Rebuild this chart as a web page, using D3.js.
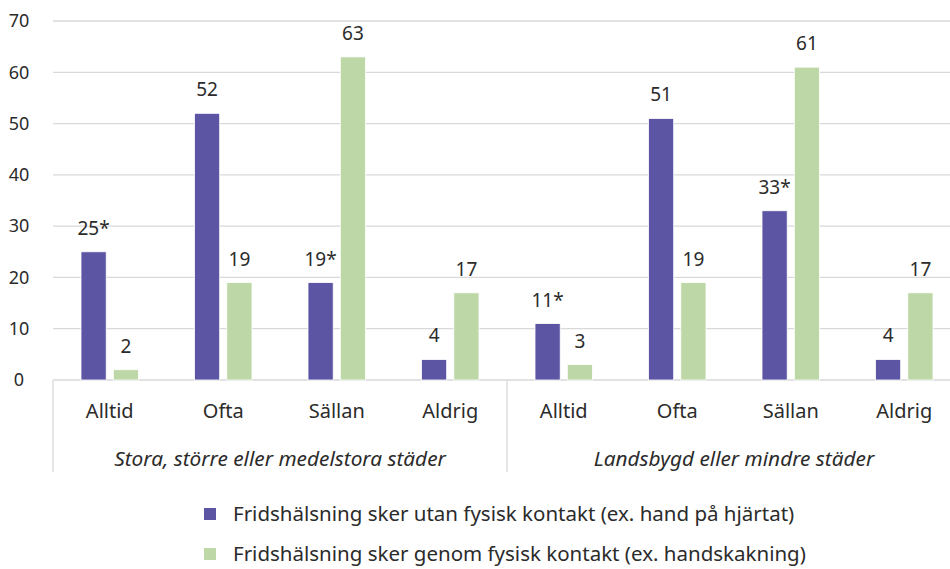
<!DOCTYPE html>
<html>
<head>
<meta charset="utf-8">
<script src="https://cdn.jsdelivr.net/npm/d3@7"></script>
<style>
  body { margin: 0; background: #fff; }
  text { font-family: "Noto Sans", "Open Sans", sans-serif; fill: #2b2b2b; }
</style>
</head>
<body>
<div id="chart"></div>
<script>
var groups = ["Stora, större eller medelstora städer", "Landsbygd eller mindre städer"];
var categories = ["Alltid", "Ofta", "Sällan", "Aldrig"];
var seriesNames = ["Fridshälsning sker utan fysisk kontakt (ex. hand på hjärtat)",
                   "Fridshälsning sker genom fysisk kontakt (ex. handskakning)"];
var utanKontakt = [25, 52, 19, 4, 11, 51, 33, 4];
var genomKontakt = [2, 19, 63, 17, 3, 19, 61, 17];
var utanLabels = ["25*", "52", "19*", "4", "11*", "51", "33*", "4"];
var genomLabels = ["2", "19", "63", "17", "3", "19", "61", "17"];
var yTicks = [0, 10, 20, 30, 40, 50, 60, 70];
var colors = ["#5b55a3", "#bdd7a6"];

var width = 950, height = 569;
var plotLeft = 53, plotRight = 961, plotTop = 21, plotBottom = 380;

var svg = d3.select("#chart").append("svg")
    .attr("width", width)
    .attr("height", height);

// one slot per group/category pair
var slots = [];
groups.forEach(function(g, gi) {
    categories.forEach(function(c, ci) {
        slots.push({ group: gi, cat: c, key: gi + "-" + c });
    });
});

var x = d3.scaleBand().domain(slots.map(function(d) { return d.key; })).range([plotLeft, plotRight]);
var y = d3.scaleLinear().domain([0, 70]).range([plotBottom, plotTop]);
var inner = d3.scaleBand().domain([0, 1]).range([28, x.bandwidth() - 28]).paddingInner(0.22);

// gridlines
svg.selectAll(".grid").data(yTicks).enter().append("line")
    .attr("x1", plotLeft).attr("x2", width)
    .attr("y1", function(d) { return y(d); })
    .attr("y2", function(d) { return y(d); })
    .attr("stroke", "#d9d9d9").attr("stroke-width", 1.3);

// y labels
svg.selectAll(".ytick").data(yTicks).enter().append("text")
    .attr("x", 19).attr("y", function(d) { return y(d); })
    .attr("dy", "0.35em")
    .attr("text-anchor", "middle")
    .style("font-size", "18px")
    .text(function(d) { return d; });

// bars
var series = [utanKontakt, genomKontakt];
var labels = [utanLabels, genomLabels];
series.forEach(function(vals, si) {
    svg.selectAll(".bar" + si).data(slots).enter().append("rect")
        .attr("x", function(d) { return x(d.key) + inner(si); })
        .attr("y", function(d, i) { return y(vals[i]); })
        .attr("width", inner.bandwidth())
        .attr("height", function(d, i) { return y(0) - y(vals[i]); })
        .attr("fill", colors[si])
        .attr("stroke", "#fff").attr("stroke-width", 0.8);

    svg.selectAll(".lab" + si).data(slots).enter().append("text")
        .attr("x", function(d) { return x(d.key) + inner(si) + inner.bandwidth() / 2; })
        .attr("y", function(d, i) { return y(vals[i]) - 17; })
        .attr("text-anchor", "middle")
        .style("font-size", "19px")
        .text(function(d, i) { return labels[si][i]; });
});

// category labels
svg.selectAll(".cat").data(slots).enter().append("text")
    .attr("x", function(d) { return x(d.key) + x.bandwidth() / 2; })
    .attr("y", 418)
    .attr("text-anchor", "middle")
    .style("font-size", "20px")
    .text(function(d) { return d.cat; });

// group labels and separators
var groupW = x.bandwidth() * categories.length;
svg.selectAll(".sep").data([0, 1, 2]).enter().append("line")
    .attr("x1", function(d) { return plotLeft + d * groupW; })
    .attr("x2", function(d) { return plotLeft + d * groupW; })
    .attr("y1", plotBottom).attr("y2", 472)
    .attr("stroke", "#d9d9d9").attr("stroke-width", 1.3);

svg.selectAll(".grp").data(groups).enter().append("text")
    .attr("x", function(d, i) { return plotLeft + i * groupW + groupW / 2; })
    .attr("y", 466)
    .attr("text-anchor", "middle")
    .style("font-size", "20.8px")
    .style("font-style", "italic")
    .text(function(d) { return d; });

// legend
var legend = svg.selectAll(".leg").data(seriesNames).enter().append("g")
    .attr("transform", function(d, i) { return "translate(204," + (514 + i * 40) + ")"; });
legend.append("rect")
    .attr("x", 0).attr("y", -6).attr("width", 12).attr("height", 12)
    .attr("fill", function(d, i) { return colors[i]; });
legend.append("text")
    .attr("x", 29).attr("y", 0).attr("dy", "0.35em")
    .style("font-size", "20.5px")
    .text(function(d) { return d; });
</script>
</body>
</html>
